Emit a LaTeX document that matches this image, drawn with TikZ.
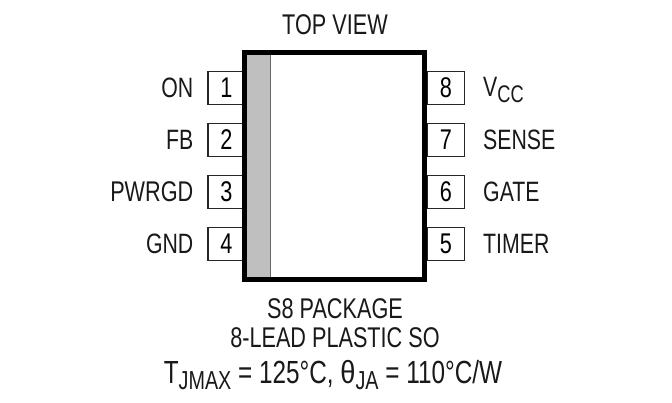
\documentclass[tikz,border=0pt]{standalone}
\usepackage{fontspec}
\setmainfont[FakeStretch=0.76]{Liberation Sans}
\newfontfamily\greekfont[FakeStretch=0.85]{Liberation Sans}
\tikzset{
  pinbox/.style={draw=black!85,line width=1.7pt,fill=white,minimum width=37pt,minimum height=33pt,inner sep=0pt,font=\fontsize{28.5}{28.5}\selectfont},
  lbl/.style={inner sep=0pt,font=\fontsize{28}{28}\selectfont,text=black!90},
  ttl/.style={inner sep=0pt,font=\fontsize{28.5}{28.5}\selectfont,text=black!90}
}
\newcommand{\subtxt}[2][26]{\raisebox{-5.5pt}{\fontsize{#1}{#1}\selectfont #2}}
\begin{document}
\begin{tikzpicture}[x=1pt,y=-1pt]
\useasboundingbox (0,0) rectangle (672,402);
\fill[white] (0,0) rectangle (672,402);
\foreach \n/\y in {1/88,2/140,3/192,4/244}{
  \node[pinbox] (p\n) at (226.5,\y) {\n};
}
\foreach \n/\y in {8/88,7/140,6/192,5/244}{
  \node[pinbox] (p\n) at (446,\y) {\n};
}
\fill[black!25] (244.5,53) rectangle (270.5,279);
\draw[black!60,line width=1.5pt] (270.5,53) -- (270.5,279);
\draw[black,line width=5.5pt,miter limit=10] (244.5,52.5) rectangle (424.5,279.5);
\node[lbl,anchor=east] (l1) at (193.5,88) {ON};
\node[lbl,anchor=east] (l2) at (193.5,140) {FB};
\node[ttl,anchor=east] (l3) at (193.5,192) {PWRGD};
\node[lbl,anchor=east] (l4) at (193.5,244) {GND};
\node[lbl,anchor=west] (l8) at (483,90) {V\subtxt[24]{CC}};
\node[lbl,anchor=west] (l7) at (483,140) {SENSE};
\node[lbl,anchor=west] (l6) at (483,192) {GATE};
\node[lbl,anchor=west] (l5) at (483,244) {TIMER};
\node[ttl] (top) at (335,25) {TOP VIEW};
\node[ttl] (pk1) at (335,309) {S8 PACKAGE};
\node[ttl] (pk2) at (335,338) {8-LEAD PLASTIC SO};
\node[lbl,font=\fontsize{32}{32}\selectfont] (th) at (333,375) {T\subtxt{JMAX} = 125°C, {\greekfont θ}\subtxt{JA} = 110°C/W};
\end{tikzpicture}
\end{document}
